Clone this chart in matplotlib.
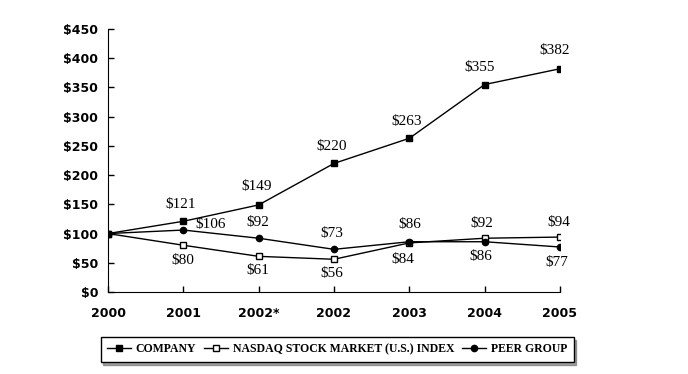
import matplotlib.pyplot as plt

years = ['2000', '2001', '2002*', '2002', '2003', '2004', '2005']
company = [100, 121, 149, 220, 263, 355, 382]
nasdaq = [100, 80, 61, 56, 84, 92, 94]
peer = [100, 106, 92, 73, 86, 86, 77]

# label offsets in pixels (dx, dy), None = no label
company_off = [None, (-3, 17), (-2, 18), (-2, 17), (-3, 17), (-5, 17), (-5, 18)]
nasdaq_off = [None, (-1, -15), (-1, -14), (-2, -14), (-7, -17), (-3, 15), (-1, 15)]
peer_off = [None, (27, 6), (-1, 16), (-2, 16), (0, 17), (-4, -15), (-3, -16)]

fig = plt.figure(figsize=(6.88, 3.74), dpi=100)
ax = fig.add_axes([108 / 688, 1 - 292 / 374, 452 / 688, 263 / 374])

x = list(range(len(years)))
l1, = ax.plot(x, company, color='black', lw=1, marker='s', ms=5,
              mfc='black', mec='black', label='COMPANY')
l2, = ax.plot(x, nasdaq, color='black', lw=1, marker='s', ms=5,
              mfc='white', mec='black', label='NASDAQ STOCK MARKET (U.S.) INDEX')
l3, = ax.plot(x, peer, color='black', lw=1, marker='o', ms=4.5,
              mfc='black', mec='black', label='PEER GROUP')

for vals, offs in [(company, company_off), (nasdaq, nasdaq_off), (peer, peer_off)]:
    for i, v in enumerate(vals):
        if offs[i] is None:
            continue
        ax.annotate('$%d' % v, (i, v), xytext=offs[i], textcoords='offset pixels',
                    ha='center', va='center', fontsize=11,
                    family='Liberation Serif')

ax.set_xlim(0, 6)
ax.set_ylim(0, 450)
ax.set_yticks(range(0, 451, 50))
ax.set_yticklabels(['$%d' % t for t in range(0, 451, 50)])
ax.set_xticks(x)
ax.set_xticklabels(years)
for lab in ax.get_xticklabels() + ax.get_yticklabels():
    lab.set_fontweight('bold')
    lab.set_fontsize(9)
    lab.set_family('DejaVu Sans')
ax.tick_params(axis='y', direction='in', length=4, pad=7, width=1)
ax.tick_params(axis='x', direction='in', length=4, pad=11, width=1)
ax.spines['top'].set_visible(False)
ax.spines['right'].set_visible(False)

leg = fig.legend(handles=[l1, l2, l3], loc='center', bbox_to_anchor=(0.49, 0.066),
                 ncol=3, frameon=True, fancybox=False, shadow=True,
                 prop={'family': 'Liberation Serif', 'weight': 'bold', 'size': 8.5},
                 handlelength=2.0, handletextpad=0.4, columnspacing=0.7,
                 borderpad=0.55)
leg.get_frame().set_edgecolor('black')
leg.get_frame().set_linewidth(1)

fig.savefig('out.png', dpi=100)
